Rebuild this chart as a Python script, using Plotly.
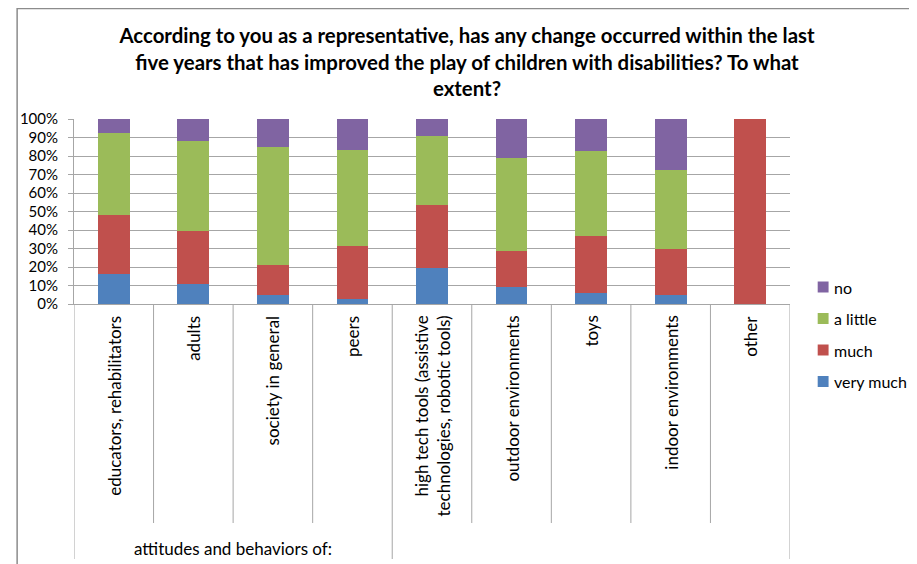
import plotly.graph_objects as go

categories = [
    "educators, rehabilitators",
    "adults",
    "society in general",
    "peers",
    "high tech tools (assistive<br>technologies, robotic tools)",
    "outdoor environments",
    "toys",
    "indoor environments",
    "other",
]
cat_keys = ["c%d" % i for i in range(len(categories))]

very_much = [0.163, 0.107, 0.047, 0.029, 0.192, 0.090, 0.058, 0.047, 0.0]
much = [0.316, 0.287, 0.163, 0.287, 0.343, 0.194, 0.311, 0.253, 1.0]
a_little = [0.445, 0.485, 0.636, 0.514, 0.373, 0.506, 0.459, 0.425, 0.0]
no = [0.076, 0.121, 0.154, 0.170, 0.092, 0.210, 0.172, 0.275, 0.0]

group_label = "attitudes and behaviors of:"

series = [
    ("very much", very_much, "#4F81BD"),
    ("much", much, "#C0504D"),
    ("a little", a_little, "#9BBB59"),
    ("no", no, "#8064A2"),
]

FONT = "Lato, Carlito, Calibri, sans-serif"
# page body has an 8px margin, so work in screen coords and shift
OFF = 8
W, H = 917 - OFF, 564 - OFF
L, R, T, B = 66 - OFF, 790 - OFF, 119 - OFF, 304 - OFF


def px_x(p):
    return (p - OFF - L) / (R - L)


def px_y(p):
    return (B - (p - OFF)) / (B - T)


fig = go.Figure()
for name, vals, col in series:
    fig.add_trace(go.Bar(
        x=cat_keys, y=vals, name=name, showlegend=False,
        marker=dict(color=col, line=dict(width=0)),
    ))

shapes = []
annotations = []

# outer frame of the chart
shapes.append(dict(type="rect", xref="paper", yref="paper",
                   x0=px_x(8.5), x1=px_x(940), y0=px_y(600), y1=px_y(8.5),
                   line=dict(color="#8C8C8C", width=1.5), layer="below"))
# category dividers below the axis
for i in range(len(categories) + 1):
    long_line = i in (0, 4, len(categories))
    shapes.append(dict(type="line", xref="x", yref="paper",
                       x0=i - 0.5, x1=i - 0.5, y0=0,
                       y1=px_y(559) if long_line else px_y(523),
                       line=dict(color="#A6A6A6", width=1)))

for i, c in enumerate(categories):
    annotations.append(dict(x=i, xref="x", y=px_y(314), yref="paper",
                            text=c, textangle=-90, showarrow=False,
                            xanchor="center", yanchor="top", align="right",
                            font=dict(family=FONT, size=17, color="#000")))
annotations.append(dict(x=1.5, xref="x", y=px_y(548), yref="paper",
                        text=group_label, showarrow=False,
                        xanchor="center", yanchor="middle",
                        font=dict(family=FONT, size=17, color="#000")))

# legend drawn by hand (top entry is "no")
for k, (name, vals, col) in enumerate(reversed(series)):
    cy = 287 + 31.5 * k
    shapes.append(dict(type="rect", xref="paper", yref="paper",
                       x0=px_x(818), x1=px_x(829), y0=px_y(cy + 5.5), y1=px_y(cy - 5.5),
                       fillcolor=col, line=dict(width=0)))
    annotations.append(dict(x=px_x(832), xref="paper", y=px_y(cy), yref="paper",
                            text=name, showarrow=False, xanchor="left", yanchor="middle",
                            font=dict(family=FONT, size=16, color="#000")))

fig.update_layout(
    width=W, height=H,
    margin=dict(l=L, r=W - R, t=T, b=H - B),
    paper_bgcolor="white", plot_bgcolor="white",
    barmode="stack", bargap=0.6,
    showlegend=False,
    font=dict(family=FONT, size=16, color="#000"),
    title=dict(
        text="According to you as a representative, has any change occurred within the last<br>"
             "five years that has improved the play of children with disabilities? To what<br>extent?",
        x=(467 - OFF) / W, xanchor="center", y=1 - 35 / H, yanchor="top",
        font=dict(family=FONT, size=20.4, color="#000", weight="bold"),
    ),
    xaxis=dict(showticklabels=False, showgrid=False, showline=True,
               linecolor="#A6A6A6", ticks="", range=[-0.5, len(categories) - 0.5]),
    yaxis=dict(range=[0, 1], dtick=0.1, tickformat=".0%", showgrid=True,
               gridcolor="#A6A6A6", gridwidth=1, showline=True,
               linecolor="#A6A6A6", ticks="outside", ticklen=5,
               tickcolor="#A6A6A6", zeroline=False, ticklabelstandoff=7,
               tickfont=dict(family=FONT, size=15, color="#000")),
    shapes=shapes,
    annotations=annotations,
)

fig.write_html("out.html")
